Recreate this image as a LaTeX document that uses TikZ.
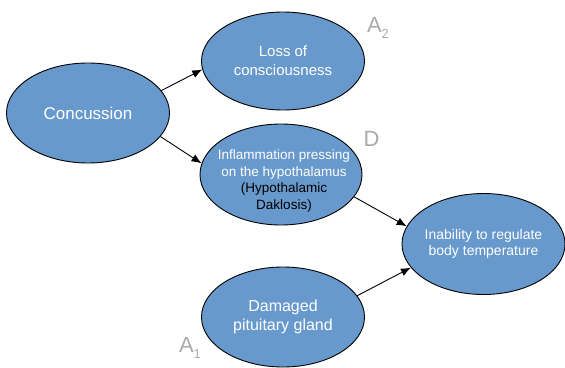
\documentclass[tikz,border=0pt]{standalone}
\usepackage{fontspec}
\setmainfont{Liberation Sans}
\usetikzlibrary{arrows.meta,shapes.geometric}
\definecolor{bubblefill}{RGB}{104,153,205}
\definecolor{labelgray}{RGB}{170,170,170}
\newcommand{\fs}[2]{\fontsize{#1}{#2}\selectfont}
\newcommand{\sub}[1]{\raisebox{-6pt}{\fs{13}{13}#1}}

\begin{document}
\begin{tikzpicture}[x=1pt, y=-1pt,
    >={Latex[length=10pt,width=8pt]},
    every node/.append style={align=center},
    bubble/.style={draw, ellipse, fill=bubblefill, text=white, line width=0.9pt,
      inner sep=-30pt, minimum width=163pt, minimum height=100pt}]
    \tikzstyle{tag}=[text=labelgray, inner sep=0pt, font=\fs{22}{26}]
    \useasboundingbox (0,0) rectangle (565,367);

   \node [bubble, font=\fs{17}{20}] (C) at (88,113)  {Concussion};
   \node [bubble, font=\fs{15}{19}, minimum height=98pt] (L) at (283,61)  {Loss of\\consciousness};
   \node [bubble, minimum width=162pt, minimum height=101pt] (I) at (281,174.5) {};
   \node [text=white, font=\fs{13.5}{16.5}] (Itxt) at (284,181)
      {Inflammation pressing\\on the hypothalamus\\\textcolor{black}{(Hypothalamic}\\\textcolor{black}{Daklosis)}};
   \node [bubble, font=\fs{14}{16.5}, minimum height=101pt] (T) at (483.5,244)
      {Inability to regulate\\body temperature};
   \node [bubble, font=\fs{16}{18.5}] (P) at (283,317) {Damaged\\pituitary gland};

   \node [tag] (A2) at (378,28)  {A\sub{2}};
   \node [tag] (D)  at (371.5,138.5) {D};
   \node [tag] (A1) at (190,348) {A\sub{1}};

   \draw[->, line width=0.9pt] (C.17) -- (L.186);
   \draw[->, line width=0.9pt] (C.-18) -- (I.172);
   \draw[->, line width=0.9pt] (I.-17) -- (T.167);
   \draw[->, line width=0.9pt] (P.16) -- (T.198);
\end{tikzpicture}
\end{document}
